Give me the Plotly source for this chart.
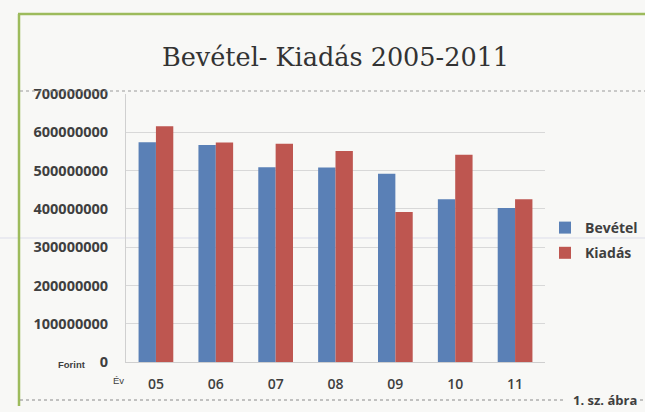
import plotly.graph_objects as go

years = ["05", "06", "07", "08", "09", "10", "11"]
bevetel = [574e6, 567e6, 509e6, 508e6, 492e6, 425e6, 402e6]
kiadas = [616e6, 573e6, 570e6, 551e6, 392e6, 541e6, 425e6]
y_ticks = [0, 100e6, 200e6, 300e6, 400e6, 500e6, 600e6, 700e6]
y_tick_text = ["0", "100000000", "200000000", "300000000", "400000000",
               "500000000", "600000000", "700000000"]

W, H = 645, 412
L, R, T, B = 126, 100, 94, 50
pw, ph = W - L - R, H - T - B


def px(x):
    return (x - L) / pw


def py(y):
    return (H - B - y) / ph


BLUE = "#5A80B6"
RED = "#BE5650"
TXT = "#3F3F3F"
BG = "#F8F8F6"

fig = go.Figure()
fig.add_trace(go.Bar(name="Bevétel", x=years, y=bevetel, marker_color=BLUE,
                     marker_line_width=0, legendgroup="a"))
fig.add_trace(go.Bar(name="Kiadás", x=years, y=kiadas, marker_color=RED,
                     marker_line_width=0, legendgroup="b"))

shapes = [
    # green frame
    dict(type="line", xref="paper", yref="paper", x0=px(18), x1=px(645),
         y0=py(14), y1=py(14), line=dict(color="#9DBB5C", width=2.5)),
    dict(type="line", xref="paper", yref="paper", x0=px(19), x1=px(19),
         y0=py(14), y1=py(406), line=dict(color="#9DBB5C", width=2.5)),
    # dotted line below title
    dict(type="line", xref="paper", yref="paper", x0=px(20), x1=px(645),
         y0=py(91), y1=py(91), line=dict(color="#9A9A9A", width=1, dash="dot")),
    # bottom dotted border
    dict(type="line", xref="paper", yref="paper", x0=px(20), x1=px(566),
         y0=py(400), y1=py(400), line=dict(color="#8A8A8A", width=1, dash="dot")),
    dict(type="line", xref="paper", yref="paper", x0=px(640), x1=px(645),
         y0=py(400), y1=py(400), line=dict(color="#8A8A8A", width=1, dash="dot")),
    # faint scan line
    dict(type="line", xref="paper", yref="paper", x0=px(0), x1=px(645),
         y0=py(238), y1=py(238), layer="below",
         line=dict(color="#DCDDEA", width=1)),
]

annotations = [
    dict(text="Bevétel- Kiadás 2005-2011", xref="paper", yref="paper",
         x=px(335), y=py(57), xanchor="center", yanchor="middle",
         showarrow=False,
         font=dict(family="DejaVu Serif", size=25.5, color="#333333")),
    dict(text="<b>Forint</b>", xref="paper", yref="paper", x=px(72), y=py(364),
         xanchor="center", yanchor="middle", showarrow=False,
         font=dict(family="Liberation Sans", size=9.5, color=TXT)),
    dict(text="Év", xref="paper", yref="paper", x=px(118), y=py(380),
         xanchor="center", yanchor="middle", showarrow=False,
         font=dict(family="Liberation Sans", size=9.5, color=TXT)),
    dict(text="<b>1. sz. ábra</b>", xref="paper", yref="paper", x=px(605), y=py(400),
         xanchor="center", yanchor="middle", showarrow=False,
         font=dict(family="Open Sans", size=13, color=TXT)),
]

fig.update_layout(
    width=W, height=H,
    margin=dict(l=L, r=R, t=T, b=B, pad=0, autoexpand=False),
    paper_bgcolor=BG, plot_bgcolor=BG,
    barmode="group", bargap=0.42, bargroupgap=0,
    shapes=shapes, annotations=annotations,
    legend=dict(x=px(545), y=py(212), xanchor="left", yanchor="top",
                font=dict(family="Open Sans", size=14, color=TXT, weight="bold"),
                bgcolor="rgba(0,0,0,0)", itemwidth=30, tracegroupgap=4,
                traceorder="grouped"),
    showlegend=True,
)
fig.update_yaxes(range=[0, 700e6], tickvals=y_ticks, ticktext=y_tick_text,
                 showgrid=True, gridcolor="#D8D8D8", gridwidth=1,
                 showline=True, linecolor="#D0D0D0", zeroline=False,
                 ticks="", ticklabelstandoff=14,
                 tickfont=dict(family="Open Sans", size=14.5, color=TXT, weight="bold"))
fig.update_xaxes(showline=True, linecolor="#CFCFCF", ticks="", ticklabelstandoff=9,
                 tickfont=dict(family="Open Sans", size=14, color=TXT, weight=600))

fig.write_html(
    "out.html",
    config={"displayModeBar": False},
    post_script="document.body.style.margin='0';"
                "document.body.style.background='#F8F8F6';",
)
